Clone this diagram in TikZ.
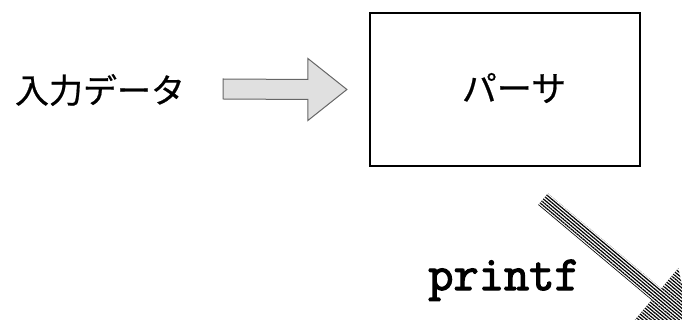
\documentclass[tikz,border=0pt]{standalone}
\usepackage{fontspec}
\newfontfamily\jpfont[FakeBold=0.6]{Noto Sans CJK JP}
\newfontfamily\codefont[FakeBold=2.5]{Latin Modern Mono}
\usepackage{tikz}
\usetikzlibrary{calc,patterns.meta}

\begin{document}
\begin{tikzpicture}[x=1pt,y=-1pt,
  jptext/.style={font=\jpfont\fontsize{34}{34}\selectfont,inner sep=0pt},
  grayarrow/.style={draw=black!60,line width=1pt,fill=black!12,line join=miter},
  stripearrow/.style={pattern={Lines[angle=-40,distance=2.6pt,line width=1.2pt]},pattern color=black}]
  \useasboundingbox (0,0) rectangle (682,320);
  \clip (0,0) rectangle (682,320);
  % Input text
  \node[jptext] (input) at (100,90) {入力データ};
  % Parser box
  \node[draw,line width=2.2pt,minimum width=270pt,minimum height=153pt,inner sep=0pt] (parser) at (505,89.5) {};
  \node[jptext,font=\jpfont\fontsize{35}{35}\selectfont] (parserlabel) at ([xshift=9pt,yshift=1.5pt]parser.center) {パーサ};
  % Gray block arrow
  \coordinate (gs) at ([xshift=38pt,yshift=1pt]input.east);
  \coordinate (ge) at ([xshift=-22pt]parser.west);
  \draw[grayarrow] ($(gs)+(0,-10)$) -- ($(ge)+(-39,-10)$) -- ($(ge)+(-39,-31)$) -- (ge)
    -- ($(ge)+(-39,31)$) -- ($(ge)+(-39,10)$) -- ($(gs)+(0,10)$) -- cycle;
  % printf call
  \node[font=\codefont\fontsize{49}{49}\selectfont,anchor=base,inner sep=0pt] (call) at (504,290) {printf};
  % Striped block arrow
  \coordinate (ps) at ($(parser.south)+(38,32)$);
  \coordinate (pb) at ($(ps)+(40:148)$);
  \coordinate (pt) at ($(ps)+(40:193)$);
  \fill[stripearrow] ($(ps)+(-50:7.5)$) -- ($(pb)+(-50:7.5)$) -- ($(pb)+(-50:34)$) -- (pt)
    -- ($(pb)+(130:34)$) -- ($(pb)+(130:7.5)$) -- ($(ps)+(130:7.5)$) -- cycle;
\end{tikzpicture}
\end{document}
